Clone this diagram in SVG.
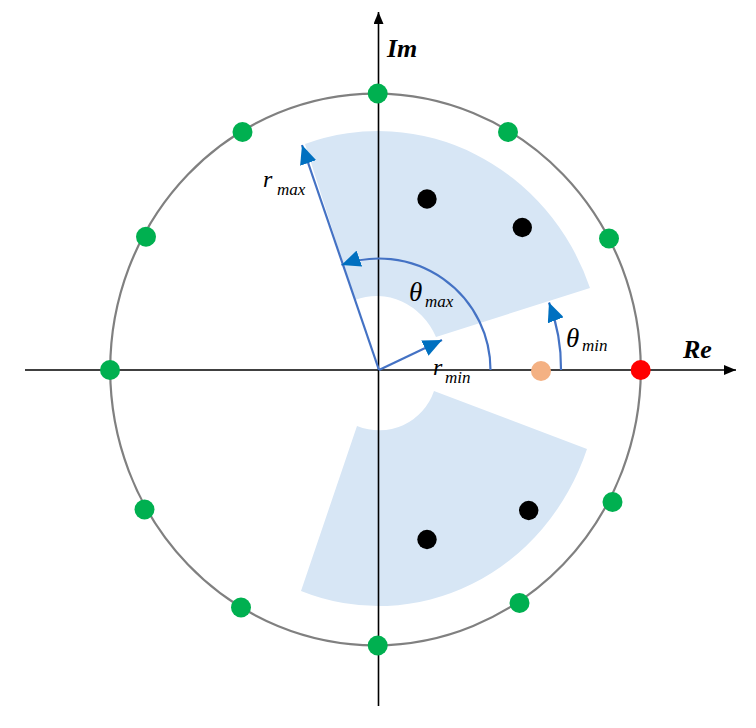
<svg xmlns="http://www.w3.org/2000/svg" width="756" height="728" viewBox="0 0 756 728">
  <style>
    .axis { stroke: #000; stroke-width: 1.6; fill: none; }
    .circ { stroke: #808080; stroke-width: 2.2; fill: none; }
    .sector { fill: #D7E6F5; stroke: none; }
    .g { fill: #00B050; }
    .k { fill: #000; }
    .blue { stroke: #4472C4; stroke-width: 2.2; fill: none; }
    .lbl { font-family: "Liberation Serif", "Times New Roman", serif; font-style: italic; fill: #000; }
    .ax { font-family: "Liberation Serif", "Times New Roman", serif; font-style: italic; font-weight: bold; font-size: 26px; fill: #000; }
    .big { font-size: 24px; }
    .th { font-size: 27px; }
    .sub { font-size: 17px; }
  </style>
  <defs>
    <marker id="axhead" markerUnits="userSpaceOnUse" markerWidth="12" markerHeight="10" refX="12" refY="5" orient="auto">
      <path d="M0,0 L12,5 L0,10 z" fill="#000"/>
    </marker>
    <marker id="bhead" markerUnits="userSpaceOnUse" markerWidth="19" markerHeight="17" refX="19" refY="8.5" orient="auto">
      <path d="M0,0 L19,8.5 L0,17 z" fill="#0070C0"/>
    </marker>
  </defs>

  <g id="sectors">
    <path id="sector-upper" class="sector" d="M436,337 L590,288 A225,237 0 0 0 305,144 L355,300 A66,73 0 0 1 436,337 Z"/>
    <path id="sector-lower" class="sector" d="M434,391 L587,449 A221,236 0 0 1 301,591 L357,426 A58,58 0 0 0 434,391 Z"/>
  </g>

  <g id="unit-circle">
    <ellipse class="circ" cx="375.5" cy="369.5" rx="265.3" ry="275.8"/>
  </g>

  <g id="axes">
    <line id="axis-re" class="axis" x1="25" y1="370" x2="736" y2="370" marker-end="url(#axhead)"/>
    <line id="axis-im" class="axis" x1="378.5" y1="706" x2="378.5" y2="12" marker-end="url(#axhead)"/>
  </g>

  <g id="connectors">
    <path id="arrow-rmax" class="blue" d="M379,370 L302,145" marker-end="url(#bhead)"/>
    <path id="arrow-rmin" class="blue" d="M379,370 L442,340" marker-end="url(#bhead)"/>
    <path id="arrow-thetamax" class="blue" d="M490.5,370 A111.5,111.5 0 0 0 341.5,265" marker-end="url(#bhead)"/>
    <path id="arrow-thetamin" class="blue" d="M561,370 A182,182 0 0 0 549,302.5" marker-end="url(#bhead)"/>
  </g>

  <g id="points">
    <g id="pt-top"><circle class="g" cx="377.7" cy="93.5" r="10"/></g>
    <g id="pt-bottom"><circle class="g" cx="377.7" cy="645.5" r="10"/></g>
    <g id="pt-left"><circle class="g" cx="110" cy="370" r="10"/></g>
    <g id="pt-ul1"><circle class="g" cx="242.5" cy="132" r="10"/></g>
    <g id="pt-ur1"><circle class="g" cx="508" cy="132" r="10"/></g>
    <g id="pt-ul2"><circle class="g" cx="146" cy="236.7" r="10"/></g>
    <g id="pt-ur2"><circle class="g" cx="609" cy="238.5" r="10"/></g>
    <g id="pt-ll2"><circle class="g" cx="144.5" cy="509.5" r="10"/></g>
    <g id="pt-lr2"><circle class="g" cx="612.5" cy="502" r="10"/></g>
    <g id="pt-ll1"><circle class="g" cx="241" cy="607.5" r="10"/></g>
    <g id="pt-lr1"><circle class="g" cx="519.5" cy="603" r="10"/></g>
    <g id="pt-red"><circle cx="640.7" cy="370" r="10" fill="#FF0000"/></g>
    <g id="pt-orange"><circle cx="541" cy="371" r="10" fill="#F4B183"/></g>
    <g id="pt-k1"><circle class="k" cx="427" cy="199" r="9.7"/></g>
    <g id="pt-k2"><circle class="k" cx="522.3" cy="227.5" r="9.7"/></g>
    <g id="pt-k3"><circle class="k" cx="427" cy="539.5" r="9.7"/></g>
    <g id="pt-k4"><circle class="k" cx="528.7" cy="510.5" r="9.7"/></g>
  </g>

  <g id="labels">
    <text class="ax" x="387" y="57">Im</text>
    <text class="ax" x="683" y="358">Re</text>
    <text class="lbl big" x="263" y="187">r</text>
    <text class="lbl sub" x="277" y="195">max</text>
    <text class="lbl th" x="409" y="301">θ</text>
    <text class="lbl sub" x="425" y="307">max</text>
    <text class="lbl th" x="566" y="347">θ</text>
    <text class="lbl sub" x="582" y="351">min</text>
    <text class="lbl big" x="433" y="375">r</text>
    <text class="lbl sub" x="445" y="383">min</text>
  </g>
</svg>
